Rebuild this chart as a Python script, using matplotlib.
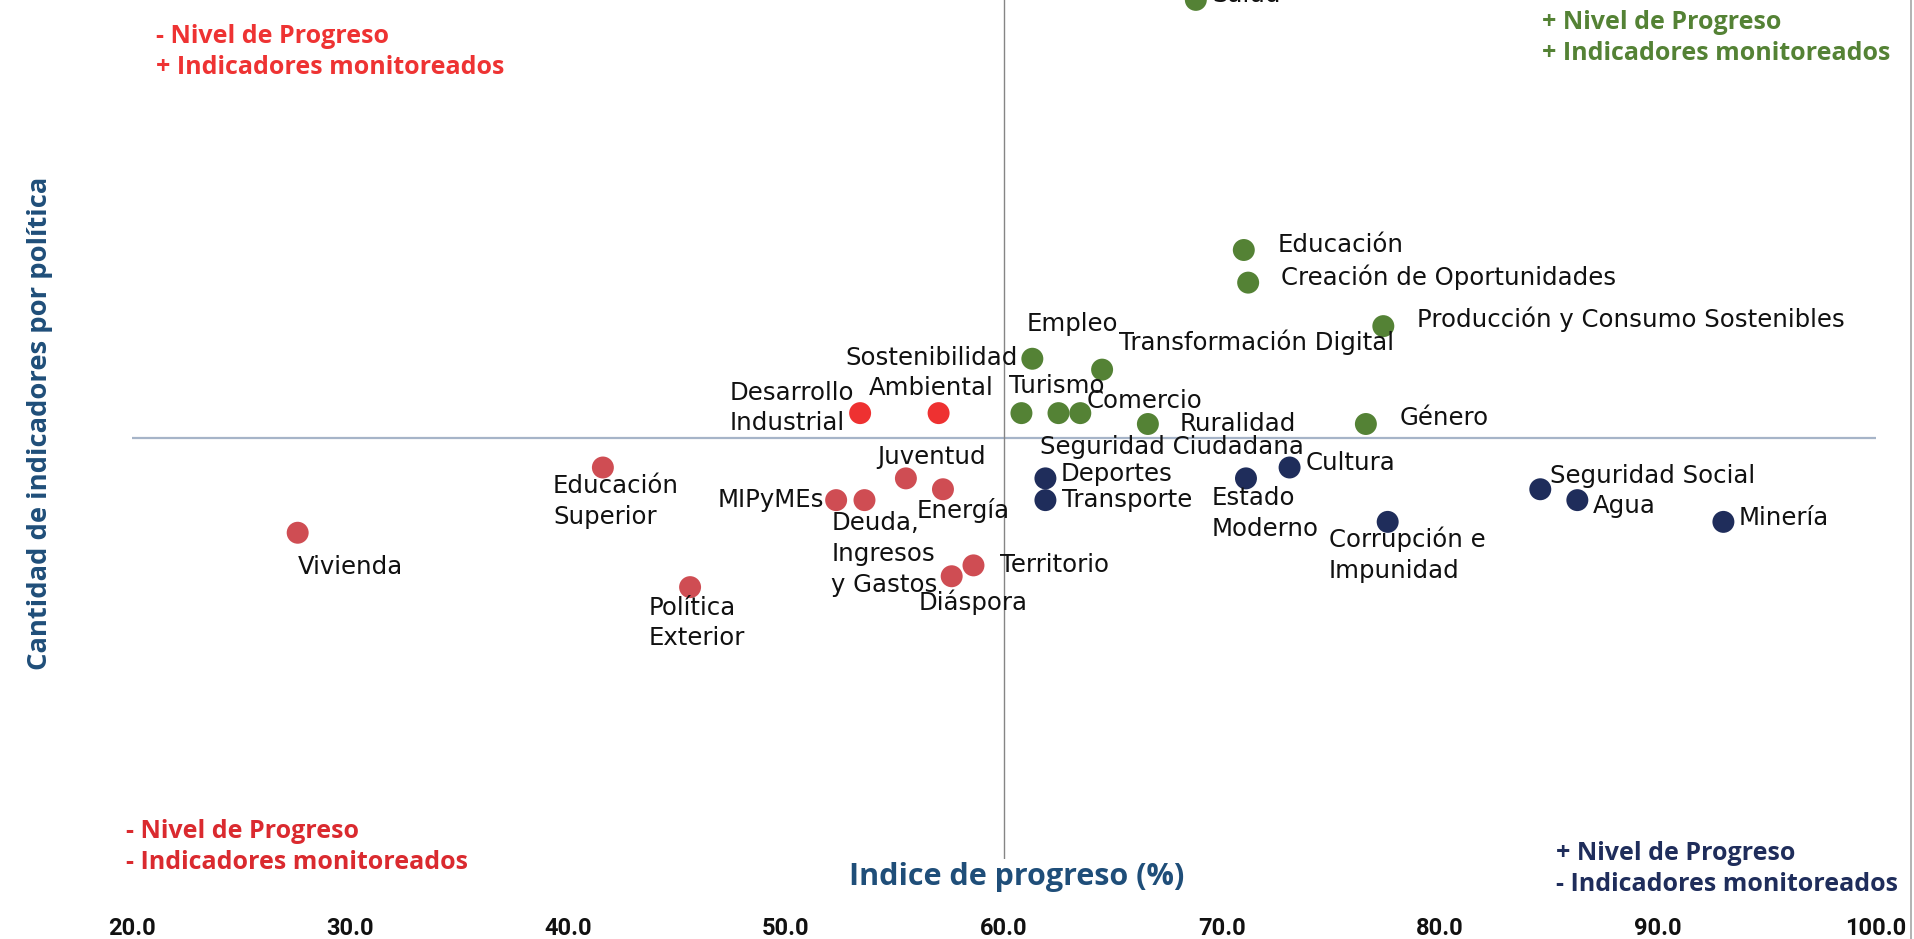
import numpy as np
import matplotlib.pyplot as plt
from matplotlib.lines import Line2D

# --- DATOS ---
politicas = [
    "Vivienda", "Educación\nSuperior", "Política\nExterior", "MIPyMEs",
    "Deuda,\nIngresos\ny Gastos", "Juventud", "Energía", "Diáspora", "Territorio",
    "Desarrollo\nIndustrial", "Sostenibilidad\nAmbiental",
    "Salud", "Educación", "Creación de Oportunidades",
    "Producción y Consumo Sostenibles", "Empleo", "Transformación Digital",
    "Turismo", "Seguridad Ciudadana", "Comercio", "Ruralidad", "Género",
    "Deportes", "Transporte", "Estado\nModerno", "Cultura",
    "Corrupción e\nImpunidad", "Seguridad Social", "Agua", "Minería",
]
progreso = [
    27.6, 41.6, 45.6, 52.3, 53.6, 55.5, 57.2, 57.6, 58.6,
    53.4, 57.0,
    68.8, 71.0, 71.2, 77.4, 61.3, 64.5, 60.8, 62.5, 63.5, 66.6, 76.6,
    61.9, 61.9, 71.1, 73.1, 77.6, 84.6, 86.3, 93.0,
]
indicadores = [
    30, 36, 25, 33, 33, 35, 34, 26, 27,
    41, 41,
    79, 56, 53, 49, 46, 45, 41, 41, 41, 40, 40,
    35, 33, 35, 36, 31, 34, 33, 31,
]
cuadrante = (["bajo"] * 9 + ["alerta"] * 2 + ["alto"] * 11 + ["medio"] * 8)

# --- ESTILO ---
colores = {"bajo": "#CF4D53", "alerta": "#EE3131",
           "alto": "#548235", "medio": "#1F2D5B"}
AZUL_TITULO = "#1F4E79"
FUENTE_BOLD = "Open Sans"

# offset de cada etiqueta (px) y alineacion
pos_etiqueta = {
    "Vivienda": (0, -34, "left"),
    "Educación\nSuperior": (-50, -34, "left"),
    "Política\nExterior": (-41, -36, "left"),
    "MIPyMEs": (-12, 0, "right"),
    "Deuda,\nIngresos\ny Gastos": (-33, -54, "left"),
    "Juventud": (26, 21, "center"),
    "Energía": (20, -21, "center"),
    "Diáspora": (21, -26, "center"),
    "Territorio": (27, 0, "left"),
    "Desarrollo\nIndustrial": (-6, 5, "right"),
    "Sostenibilidad\nAmbiental": (-7, 40, "center"),
    "Salud": (17, 5, "left"),
    "Educación": (34, 5, "left"),
    "Creación de Oportunidades": (33, 5, "left"),
    "Producción y Consumo Sostenibles": (34, 7, "left"),
    "Empleo": (40, 35, "center"),
    "Transformación Digital": (17, 27, "left"),
    "Turismo": (-12, 27, "left"),
    "Seguridad Ciudadana": (-18, -34, "left"),
    "Comercio": (6, 12, "left"),
    "Ruralidad": (32, 0, "left"),
    "Género": (34, 6, "left"),
    "Deportes": (15, 4, "left"),
    "Transporte": (17, 0, "left"),
    "Estado\nModerno": (-34, -35, "left"),
    "Cultura": (16, 4, "left"),
    "Corrupción e\nImpunidad": (-59, -33, "left"),
    "Seguridad Social": (10, 13, "left"),
    "Agua": (15, -6, "left"),
    "Minería": (15, 4, "left"),
}

W, H = 1914, 939
fig = plt.figure(figsize=(W / 100, H / 100), dpi=100)
ax = fig.add_axes([132 / W, 80 / H, (1876 - 132) / W, 870 / H])

# lineas de cruce: promedio de indicadores y 60% de progreso
ax.axhline(np.mean(indicadores), color="#A6B4C8", lw=1.6, zorder=1)
ax.axvline(60, color="#858585", lw=1.0, zorder=1)

for grupo in ["bajo", "alerta", "alto", "medio"]:
    idx = [i for i, g in enumerate(cuadrante) if g == grupo]
    ax.scatter([progreso[i] for i in idx], [indicadores[i] for i in idx],
               s=250, color=colores[grupo], edgecolors="none", zorder=3)

for nombre, x, y in zip(politicas, progreso, indicadores):
    dx, dy, ha = pos_etiqueta[nombre]
    ax.annotate(nombre, (x, y), xytext=(dx, dy), textcoords="offset pixels",
                ha=ha, va="center", ma="center" if ha == "center" else "left",
                fontsize=17.6, color="#111111", linespacing=1.35,
                family="DejaVu Sans", zorder=4)

ax.set_xlim(20, 100)
ax.set_ylim(0, 80)
ax.set_xticks(np.arange(20, 101, 10))
ax.set_xticklabels([f"{v:.1f}" for v in np.arange(20, 101, 10)])
ax.set_yticks([])
ax.tick_params(axis="x", length=0, pad=42, labelsize=17)
for lab in ax.get_xticklabels():
    lab.set_fontfamily("Roboto")
    lab.set_fontweight("bold")
    lab.set_color("#111111")
for s in ax.spines.values():
    s.set_visible(False)

# titulos de ejes
fig.text(1017 / W, 1 - 877 / H, "Indice de progreso (%)", ha="center", va="center",
         fontsize=22, fontweight="bold", family=FUENTE_BOLD, color=AZUL_TITULO)
fig.text(40 / W, 1 - 423 / H, "Cantidad de indicadores por política", ha="center",
         va="center", rotation=90, fontsize=19.7, fontweight="bold",
         family=FUENTE_BOLD, color=AZUL_TITULO)

# textos de cuadrantes
cuadros = [
    (156, 52, "- Nivel de Progreso\n+ Indicadores monitoreados", "#EE3333"),
    (1542, 38, "+ Nivel de Progreso\n+ Indicadores monitoreados", "#548235"),
    (126, 847, "- Nivel de Progreso\n- Indicadores monitoreados", "#DA2A2F"),
    (1556, 869, "+ Nivel de Progreso\n- Indicadores monitoreados", "#1F2D5B"),
]
for px, py, txt, c in cuadros:
    fig.text(px / W, 1 - py / H, txt, ha="left", va="center", fontsize=18,
             fontweight="bold", family=FUENTE_BOLD, color=c, linespacing=1.32)

# borde derecho
fig.add_artist(Line2D([1911 / W, 1911 / W], [0, 1], transform=fig.transFigure,
                      color="#A6A6A6", lw=1.2))

fig.savefig("out.png", dpi=100)
